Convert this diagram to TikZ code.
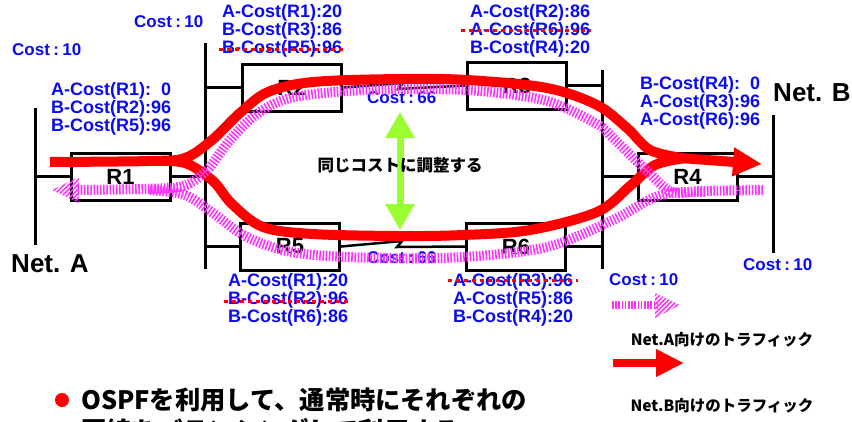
\documentclass[tikz,border=0pt]{standalone}
\usepackage{fontspec}
\setmainfont{Liberation Sans}
\newfontfamily\jpfont{Noto Sans CJK JP}
\usetikzlibrary{positioning, arrows.meta, patterns.meta}
\definecolor{costblue}{RGB}{10,10,245}
\definecolor{trafred}{RGB}{255,0,0}
\definecolor{trafpink}{RGB}{255,51,255}
\definecolor{adjgreen}{RGB}{153,255,51}

\begin{document}
\begin{tikzpicture}[x=1pt, y=-1pt, font=\bfseries]

% --- Styles ---
\tikzset{
    net/.style={line width=3pt, black},
    router/.style={rectangle, draw, line width=3pt, fill=white, minimum width=99pt, minimum height=47pt, inner sep=0pt, font=\fontsize{22}{22}\selectfont\bfseries},
    costlbl/.style={anchor=west, inner sep=0pt, text=costblue, font=\fontsize{17}{17}\selectfont\bfseries},
    costtab/.style={anchor=west, inner sep=0pt, align=left, text=costblue, font=\fontsize{18}{18}\selectfont\bfseries},
    strike/.style={trafred, line width=3pt, dash pattern=on 4pt off 4pt},
    redpath/.style={trafred, line width=10pt},
    pinkpath/.style={trafpink, line width=10pt, dash pattern=on 1.6pt off 1.6pt, preaction={draw=white, solid}},
    pinkhead/.style={pattern={Lines[angle=45, distance=3.2pt, line width=1.6pt]}, pattern color=trafpink},
    netlbl/.style={inner sep=0pt, font=\fontsize{26}{26}\selectfont\bfseries},
    jplbl/.style={inner sep=0pt, font=\jpfont\bfseries\fontsize{15.5}{18}\selectfont},
    notelbl/.style={anchor=west, inner sep=0pt, font=\jpfont\bfseries\fontsize{25.3}{30}\selectfont},
}

\useasboundingbox (0,0) rectangle (852,421);

% --- Cost labels (under the traffic) ---
\node[costlbl] (c10a) at (12,50) {Cost\hspace{0.2em}:\hspace{0.2em}10};
\node[costlbl] (c10b) at (134,22) {Cost\hspace{0.2em}:\hspace{0.2em}10};
\node[costlbl] (c66a) at (367,98) {Cost\hspace{0.2em}:\hspace{0.2em}66};
\node[costlbl] (c66b) at (367,258) {Cost\hspace{0.2em}:\hspace{0.2em}66};
\node[costlbl] (c10c) at (609,280) {Cost\hspace{0.2em}:\hspace{0.2em}10};
\node[costlbl] (c10d) at (743,265) {Cost\hspace{0.2em}:\hspace{0.2em}10};

% --- Segments ---
\coordinate (netaT) at (35,108);  \coordinate (netaB) at (35,245);
\coordinate (lbusT) at (205,43);  \coordinate (lbusB) at (205,269);
\coordinate (rbusT) at (602,70);  \coordinate (rbusB) at (602,269);
\coordinate (netbT) at (773,115); \coordinate (netbB) at (773,253);
\draw[net] (netaT) -- (netaB);
\draw[net] (lbusT) -- (lbusB);
\draw[net] (rbusT) -- (rbusB);
\draw[net] (netbT) -- (netbB);

\node[netlbl] (neta) at (50,264) {Net. A};
\node[netlbl] (netb) at (812,93) {Net. B};

% --- Routers ---
\node[router] (r1) at (120.5,176.5) {R1};
\node[router] (r2) at (291.5,87.5) {R2};
\node[router] (r3) at (517,85.5) {R3};
\node[router] (r4) at (687.5,176.5) {R4};
\node[router] (r5) at (290,246.5) {R5};
\node[router] (r6) at (516,246.5) {R6};

\draw[net] (r1.west) -- (r1.west -| netaT);
\draw[net] (r1.east) -- (r1.east -| lbusT);
\draw[net] (r2.west) -- (r2.west -| lbusT);
\draw[net] (r5.west) -- (r5.west -| lbusT);
\draw[net] (r3.east) -- (r3.east -| rbusT);
\draw[net] (r6.east) -- (r6.east -| rbusT);
\draw[net] (r4.west) -- (r4.west -| rbusT);
\draw[net] (r4.east) -- (r4.east -| netbT);

% serial links
\draw[net, line width=2.5pt] (r2.east) -- (403,83) -- (398,89) -- (r3.west);
\draw[net, line width=2.5pt] (r5.east) -- (402,241) -- (397,247) -- (r6.west);

% --- Cost tables ---
\node[costtab] (t1) at (51,109) {A-Cost(R1):\phantom{9}0\\B-Cost(R2):96\\B-Cost(R5):96};
\node[costtab] (t2) at (222,31) {A-Cost(R1):20\\B-Cost(R3):86\\B-Cost(R5):96};
\node[costtab] (t3) at (470,31) {A-Cost(R2):86\\A-Cost(R6):96\\B-Cost(R4):20};
\node[costtab] (t4) at (640,103) {B-Cost(R4):\phantom{9}0\\A-Cost(R3):96\\A-Cost(R6):96};
\node[costtab] (t5) at (228,300) {A-Cost(R1):20\\B-Cost(R2):96\\B-Cost(R6):86};
\node[costtab] (t6) at (453,300) {A-Cost(R3):96\\A-Cost(R5):86\\B-Cost(R4):20};

\draw[strike] (219,49) -- (347,49);
\draw[strike] (461,30) -- (591,30);
\draw[strike] (224,301) -- (351,301);
\draw[strike] (448,280) -- (578,280);

% --- Traffic for Net.B (red) ---
\draw[redpath]
    plot[smooth, tension=0.55] coordinates {(50,162) (150,161) (185,158) (212,140) (240,113) (268,92) (313,82) (400,79) (467,80) (547,88) (597,105) (627,128) (650,150) (682,158)}
    plot[smooth, tension=0.55] coordinates {(150,161) (185,163) (213,181) (232,204) (263,227) (313,234) (400,236) (463,235) (530,230) (597,212) (630,186) (655,165) (686,158)};
\draw[redpath, -{Triangle[length=29pt, width=27pt]}] (680,158) -- (762,164);

% --- Traffic for Net.A (hatched) ---
\draw[pinkpath]
    plot[smooth, tension=0.55] coordinates {(763,190) (700,191) (672,192) (647,171) (613,138) (597,124) (547,101) (480,91) (413,89) (347,91) (290,98) (257,114) (230,140) (207,170) (183,186) (140,189) (77,190)}
    plot[smooth, tension=0.55] coordinates {(705,192) (670,193) (647,201) (613,220) (547,247) (463,257) (380,258) (297,253) (247,237) (213,213) (185,195) (150,190)};
\fill[pinkhead] (79,177) -- (52,190) -- (79,203) -- cycle;

% --- Equal cost ---
\coordinate (adjT) at (400,112);
\coordinate (adjB) at (400,230);
\draw[adjgreen, line width=7pt, {Triangle[length=26pt, width=28pt]}-{Triangle[length=26pt, width=28pt]}] (adjT) -- (adjB);
\node[jplbl, font=\jpfont\bfseries\fontsize{16.5}{18}\selectfont] (adjtxt) at (400,165) {同じコストに調整する};

% --- Legend ---
\coordinate (lgA1) at (612,305); \coordinate (lgA2) at (657,305);
\draw[pinkpath, line width=8pt] (lgA1) -- (lgA2);
\fill[pinkhead] (655,293) -- (680,305) -- (655,318) -- cycle;
\node[jplbl] (lgAtxt) at (722,340) {Net.A向けのトラフィック};

\coordinate (lgB1) at (613,363); \coordinate (lgB2) at (684,363);
\draw[redpath, line width=8pt, -{Triangle[length=28pt, width=26pt]}] (lgB1) -- (lgB2);
\node[jplbl] (lgBtxt) at (722,406) {Net.B向けのトラフィック};

% --- Bullet ---
\fill[trafred] (62,400) circle (7pt);
\node[notelbl] (note1) at (81,400) {OSPFを利用して、通常時にそれぞれの};
\node[notelbl] (note2) at (81,431) {回線をバランシングして利用する};

\end{tikzpicture}
\end{document}
